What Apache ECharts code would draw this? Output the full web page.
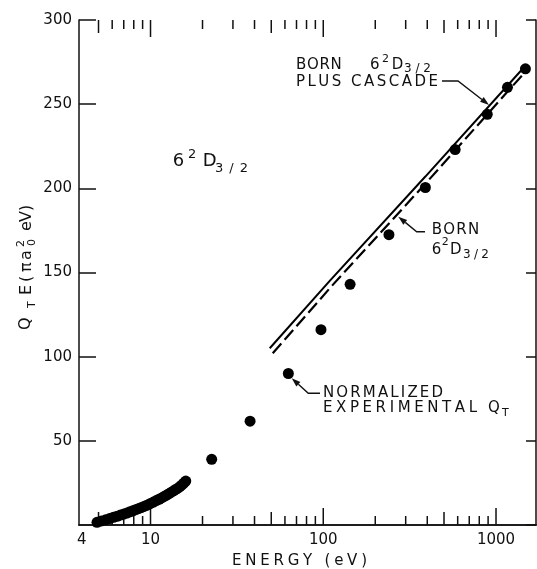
<!DOCTYPE html>
<html><head><meta charset="utf-8">
<script src="https://cdn.jsdelivr.net/npm/echarts@6/dist/echarts.min.js"></script>
<style>html,body{margin:0;padding:0;background:#fff}#c{width:537px;height:569px}</style>
</head><body><div id="c"></div>
<script>
// ---- data ----
const lowEnergy = [4.9, 5.2, 5.5, 5.8, 6.1, 6.4, 6.7, 7.0, 7.3, 7.6, 7.9, 8.2, 8.5, 8.8, 9.1, 9.4, 9.7, 10.0, 10.4, 10.8, 11.2, 11.6, 12.0, 12.4, 12.8, 13.2, 13.6, 14.0, 14.4, 14.8, 15.2, 15.6, 16.0];
const lowQE = [1.6, 2.4, 3.1, 3.8, 4.6, 5.2, 5.9, 6.5, 7.1, 7.8, 8.4, 9.1, 9.7, 10.3, 10.9, 11.5, 12.1, 12.8, 13.6, 14.5, 15.3, 16.1, 17.0, 17.8, 18.6, 19.5, 20.3, 21.1, 21.9, 22.8, 23.8, 24.9, 26.1];
const highEnergy = [22.6, 37.7, 62.8, 97, 143, 240, 390, 580, 890, 1165, 1480];
const highQE = [39, 61.7, 90, 116, 143, 172.5, 200.5, 223, 244, 260, 271];
const bornCascadeE = [49, 109, 390, 1440];
const bornCascadeQE = [105, 145, 207, 271.5];
const bornE = [51, 112, 400, 1500];
const bornQE = [102, 142, 204, 270];
const xMajorTicks = [10, 100, 1000];
const xMidTicks = [5, 50, 500];
const xMinorTicks = [6, 7, 8, 9, 20, 30, 40, 60, 70, 80, 90, 200, 300, 400, 600, 700, 800, 900];
const xTickLabels = [4, 10, 100, 1000];
const yMin = 0, yMax = 300, yStep = 50;
const xMin = 3.855, xMax = 1704;

// ---- helpers ----
const FONT = '"DejaVu Sans"';
const INK = '#111';
const DOT = '#000';
const mctx = document.createElement('canvas').getContext('2d');
function tw(s, size) { mctx.font = size + 'px ' + FONT; return mctx.measureText(s).width; }
function txt(s, x, cy, size) {
  return { type: 'text', x: x, y: cy, style: { text: s, font: size + 'px ' + FONT, fill: INK, align: 'left', verticalAlign: 'middle' } };
}
function spaced(s, x0, x1, cy, size) {
  const chars = s.split('');
  const widths = chars.map(c => tw(c, size));
  const total = widths.reduce((a, b) => a + b, 0);
  const sp = chars.length > 1 ? (x1 - x0 - total) / (chars.length - 1) : 0;
  const out = []; let x = x0;
  chars.forEach((c, i) => { if (c !== ' ') out.push(txt(c, x, cy, size)); x += widths[i] + sp; });
  return out;
}
function arrow(pts) {
  const n = pts.length, t = pts[n - 1], p = pts[n - 2];
  const dx = t[0] - p[0], dy = t[1] - p[1], L = Math.hypot(dx, dy);
  const ux = dx / L, uy = dy / L, bx = t[0] - 9 * ux, by = t[1] - 9 * uy;
  return [
    { type: 'polyline', shape: { points: pts.slice(0, n - 1).concat([[bx, by]]) }, style: { stroke: INK, lineWidth: 1.4, fill: null } },
    { type: 'polygon', shape: { points: [t, [bx - 3 * uy, by + 3 * ux], [bx + 3 * uy, by - 3 * ux]] }, style: { fill: INK } }
  ];
}

const tickData = []
  .concat(xMajorTicks.map(v => [v, 2]))
  .concat(xMidTicks.map(v => [v, 1]))
  .concat(xMinorTicks.map(v => [v, 0]));
const tickLen = [9, 13, 17];

const graphics = [];
// 6^2 D 3/2 main label
graphics.push(txt('6', 172.7, 161.7, 18), txt('2', 188, 154.7, 13), txt('D', 202.7, 161.7, 18));
graphics.push(...spaced('3/2', 215, 248, 168.3, 13));
// BORN 6^2D3/2 PLUS CASCADE
graphics.push(...spaced('BORN', 296, 341.7, 64.7, 15));
graphics.push(txt('6', 370, 64.7, 15), txt('2', 382, 59.5, 11), txt('D', 391.7, 64.7, 15));
graphics.push(...spaced('3/2', 404, 431, 69, 12));
graphics.push(...spaced('PLUS CASCADE', 296, 438, 82.5, 15));
graphics.push(...arrow([[442, 81], [458, 81], [489, 105]]));
// BORN 6^2D3/2 (lower)
graphics.push(...spaced('BORN', 431.7, 479.3, 230, 15));
graphics.push(txt('6', 431.7, 250, 15), txt('2', 441.7, 242, 11), txt('D', 450, 250, 15));
graphics.push(...spaced('3/2', 463, 489, 255, 12));
graphics.push(...arrow([[425, 231.7], [416.7, 231.7], [398.3, 216.7]]));
// NORMALIZED EXPERIMENTAL Q_T
graphics.push(...spaced('NORMALIZED', 323, 443, 393, 15));
graphics.push(...spaced('EXPERIMENTAL', 323, 477, 408.3, 15));
graphics.push(txt('Q', 488, 408.3, 15), txt('T', 502, 413.5, 11));
graphics.push(...arrow([[320, 393.3], [308.3, 393.3], [291.7, 378.3]]));
// x axis name
graphics.push(...spaced('ENERGY (eV)', 232, 367, 561, 15));
// y axis name (rotated)
const yName = [
  txt('Q', 0, 26, 16), txt('T', 22, 32.5, 11), txt('E', 35, 26.5, 16), txt('(', 48, 26.5, 16),
  txt('π', 58, 26.5, 16), txt('a', 70, 26.5, 16), txt('2', 83, 21, 11), txt('0', 84, 32, 11),
  txt('e', 99, 26.5, 16), txt('V', 108, 26.5, 16), txt(')', 119, 26.5, 16)
];
graphics.push({ type: 'group', x: 0, y: 330, rotation: Math.PI / 2, children: yName });

const chart = echarts.init(document.getElementById('c'), null, { renderer: 'canvas' });
const axisLineStyle = { color: INK, width: 1.5 };
chart.setOption({
  animation: false,
  backgroundColor: '#fff',
  grid: { left: 79, right: 1, top: 20, bottom: 44 },
  xAxis: [
    { type: 'log', logBase: 10, min: xMin, max: xMax, position: 'bottom',
      axisLine: { show: true, lineStyle: axisLineStyle }, axisTick: { show: false },
      axisLabel: { show: false }, splitLine: { show: false }, minorTick: { show: false } },
    { type: 'log', logBase: 10, min: xMin, max: xMax, position: 'top',
      axisLine: { show: true, lineStyle: axisLineStyle }, axisTick: { show: false },
      axisLabel: { show: false }, splitLine: { show: false } }
  ],
  yAxis: [
    { type: 'value', min: yMin, max: yMax, interval: yStep, position: 'left',
      axisLine: { show: true, lineStyle: axisLineStyle },
      axisTick: { show: true, inside: true, length: 17, lineStyle: { color: INK, width: 1.5 } },
      axisLabel: { show: true, showMinLabel: false, margin: 7, color: INK, fontFamily: 'DejaVu Sans', fontSize: 15 },
      splitLine: { show: false } },
    { type: 'value', min: yMin, max: yMax, interval: yStep, position: 'right',
      axisLine: { show: true, lineStyle: axisLineStyle },
      axisTick: { show: true, inside: true, length: 10, lineStyle: { color: INK, width: 1.5 } },
      axisLabel: { show: false }, splitLine: { show: false } }
  ],
  series: [
    { type: 'custom', silent: true, z: 1, xAxisIndex: 0, yAxisIndex: 0, clip: false,
      data: tickData,
      renderItem: function (params, api) {
        const v = api.value(0), k = api.value(1), len = tickLen[k];
        const b = api.coord([v, yMin]), t = api.coord([v, yMax]);
        return { type: 'group', children: [
          { type: 'line', shape: { x1: b[0], y1: b[1], x2: b[0], y2: b[1] - len }, style: { stroke: INK, lineWidth: 1.5 } },
          { type: 'line', shape: { x1: t[0], y1: t[1], x2: t[0], y2: t[1] + len }, style: { stroke: INK, lineWidth: 1.5 } }
        ] };
      } },
    { type: 'custom', silent: true, z: 1, xAxisIndex: 0, yAxisIndex: 0, clip: false,
      data: xTickLabels.map(v => [v, yMin]),
      renderItem: function (params, api) {
        const v = api.value(0), p = api.coord([v, yMin]);
        return { type: 'text', x: p[0], y: p[1] + 8,
          style: { text: String(v), font: '15px ' + FONT, fill: INK, align: 'center', verticalAlign: 'top' } };
      } },
    { type: 'line', name: 'Born plus cascade', z: 3, showSymbol: false, symbol: 'none',
      data: bornCascadeE.map((e, i) => [e, bornCascadeQE[i]]),
      lineStyle: { color: DOT, width: 2 } },
    { type: 'line', name: 'Born', z: 3, showSymbol: false, symbol: 'none',
      data: bornE.map((e, i) => [e, bornQE[i]]),
      lineStyle: { color: DOT, width: 2.2, type: [13, 5] } },
    { type: 'scatter', name: 'Normalized experimental', z: 4, symbol: 'circle', symbolSize: 11,
      data: lowEnergy.map((e, i) => [e, lowQE[i]]).concat(highEnergy.map((e, i) => [e, highQE[i]])),
      itemStyle: { color: DOT, opacity: 1 } }
  ],
  graphic: graphics
});
</script>
</body></html>
